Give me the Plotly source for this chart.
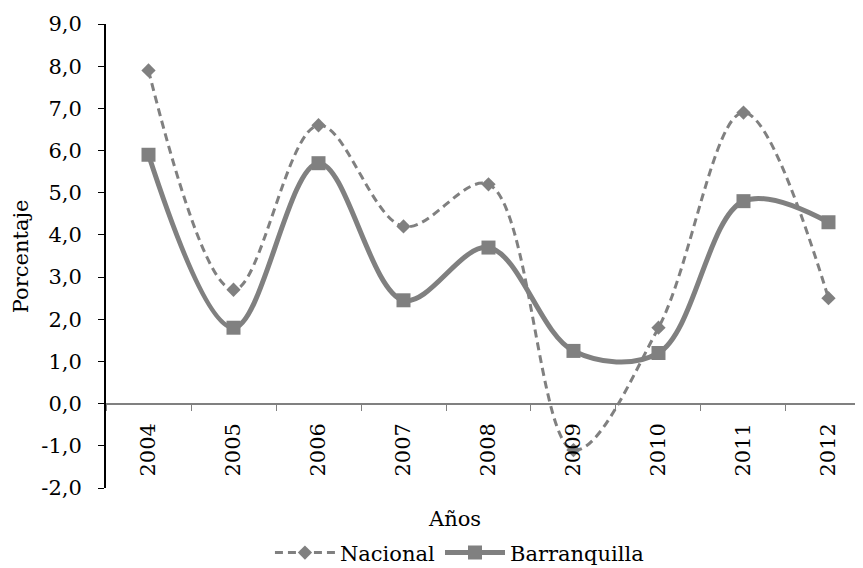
import plotly.graph_objects as go

# Data
years = ['2004', '2005', '2006', '2007', '2008', '2009', '2010', '2011', '2012']
nacional = [7.9, 2.7, 6.6, 4.2, 5.2, -1.1, 1.8, 6.9, 2.5]
barranquilla = [5.9, 1.8, 5.7, 2.45, 3.7, 1.25, 1.2, 4.8, 4.3]
ytick_vals = [-2, -1, 0, 1, 2, 3, 4, 5, 6, 7, 8, 9]
ytick_text = ['-2,0', '-1,0', '0,0', '1,0', '2,0', '3,0', '4,0', '5,0', '6,0', '7,0', '8,0', '9,0']

gray = '#808080'
font = 'DejaVu Serif'

trace1 = go.Scatter(
    x=years, y=nacional, name='Nacional',
    mode='lines+markers',
    line=dict(color=gray, width=3, dash='8px,5px', shape='spline', smoothing=1),
    marker=dict(symbol='diamond', size=11, color=gray)
)
trace2 = go.Scatter(
    x=years, y=barranquilla, name='Barranquilla',
    mode='lines+markers',
    line=dict(color=gray, width=5, shape='spline', smoothing=1),
    marker=dict(symbol='square', size=14, color=gray)
)

fig = go.Figure(data=[trace1, trace2])
# the page body adds an 8px margin, so the figure is sized to fit the window
fig.update_layout(
    width=855, height=560,
    margin=dict(l=98, r=0, t=16, b=80, autoexpand=False),
    plot_bgcolor='white', paper_bgcolor='white',
    font=dict(family=font, size=21, color='black'),
    showlegend=True,
    legend=dict(orientation='h', xref='container', yref='container',
                x=0.528, y=0.027, xanchor='center', yanchor='middle',
                font=dict(size=21), itemwidth=60),
    xaxis=dict(
        type='category', range=[-0.5, 8.406],
        anchor='free', position=2 / 11, automargin=False,
        showline=True, linecolor=gray, linewidth=2,
        ticks='outside', tickson='boundaries', ticklen=6, tickcolor=gray,
        tickangle=-90, showgrid=False, zeroline=False,
        ticklabelstandoff=10,
    ),
    yaxis=dict(
        range=[-2, 9], tickvals=ytick_vals, ticktext=ytick_text,
        automargin=False,
        showline=True, linecolor='black', linewidth=2,
        ticks='outside', ticklen=6, tickcolor='black',
        showgrid=False, zeroline=False, ticklabelstandoff=12,
    ),
    annotations=[
        dict(text='Años', x=0.461, y=-0.067, xref='paper', yref='paper',
             showarrow=False, xanchor='center', yanchor='middle', font=dict(size=21)),
        dict(text='Porcentaje', x=-0.112, y=0.5, xref='paper', yref='paper',
             showarrow=False, textangle=-90, xanchor='center', yanchor='middle',
             font=dict(size=21)),
    ],
)

fig.write_html("out.html")
